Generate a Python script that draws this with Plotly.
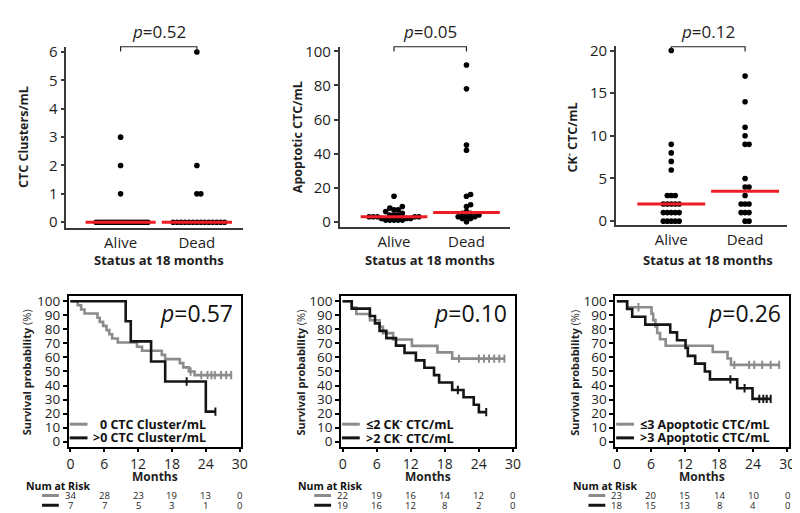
import numpy as np
import plotly.graph_objects as go

W, H = 800, 513
FONT = "Open Sans"
NARROW = "Liberation Sans Narrow, Open Sans"

# ---------------- data: dot plots ----------------
groups = ["Alive", "Dead"]
clusters_alive = [3, 2, 1, 0, 0, 0, 0, 0, 0, 0, 0, 0, 0, 0, 0, 0, 0, 0, 0, 0, 0, 0, 0]
clusters_dead = [6, 2, 1, 1, 0, 0, 0, 0, 0, 0, 0, 0, 0, 0, 0, 0, 0, 0]
apop_alive = [15, 9, 8, 7, 7, 6, 5, 4, 4, 4, 3, 3, 3, 3, 3, 2, 2, 2, 1, 1, 1, 1, 1]
apop_dead = [92, 78, 45, 42, 16, 15, 10, 9, 6, 5, 5, 4, 3, 3, 3, 2, 2, 0]
ckneg_alive = [20, 9, 8, 7, 6, 3, 3, 3, 2, 2, 2, 2, 2, 1, 1, 1, 1, 1, 0, 0, 0, 0, 0]
ckneg_dead = [17, 14, 11, 10, 9, 9, 5, 4, 4, 3, 2, 2, 2, 1, 1, 1, 0, 0]
p_top = ["0.52", "0.05", "0.12"]
ytitles_top = ["<b>CTC Clusters/mL</b>", "<b>Apoptotic CTC/mL</b>", "<b>CK<sup>-</sup> CTC/mL</b>"]

# ---------------- data: Kaplan-Meier ----------------
km1_a_t = [0, 1.3, 1.9, 2.5, 4.8, 5.2, 5.8, 6.4, 6.9, 7.4, 8.4, 11.8, 12.7, 16.2, 16.8, 19.4, 20.0, 21.0, 22.0, 28.5]
km1_a_s = [100, 97.1, 94.1, 91.2, 88.2, 85.3, 82.4, 79.4, 76.5, 73.5, 70.6, 67.6, 64.7, 61.8, 58.8, 55.9, 52.9, 50.0, 47.4, 47.4]
km1_a_ct = [21.3, 23.2, 24.3, 25.0, 25.6, 26.7, 27.6, 28.5]
km1_a_cs = [50.0, 47.4, 47.4, 47.4, 47.4, 47.4, 47.4, 47.4]
km1_b_t = [0, 9.8, 10.7, 14.3, 16.8, 24.0, 25.7]
km1_b_s = [100, 85.7, 71.4, 57.1, 42.9, 21.4, 21.4]
km1_b_ct = [20.6, 25.7]
km1_b_cs = [42.9, 21.4]

km2_a_t = [0, 1.6, 2.4, 4.8, 6.5, 7.1, 8.9, 12.2, 16.7, 19.3, 28.5]
km2_a_s = [100, 95.5, 90.9, 86.4, 81.8, 77.3, 72.7, 68.2, 63.6, 59.1, 59.1]
km2_a_ct = [20.5, 24.0, 24.9, 25.8, 26.7, 27.6, 28.5]
km2_a_cs = [59.1, 59.1, 59.1, 59.1, 59.1, 59.1, 59.1]
km2_b_t = [0, 1.6, 4.8, 5.7, 6.5, 7.7, 9.4, 10.9, 12.9, 14.4, 16.1, 17.0, 19.3, 21.3, 23.1, 24.0, 25.3]
km2_b_s = [100, 94.7, 89.5, 84.2, 78.9, 73.7, 68.4, 63.2, 57.9, 52.6, 47.4, 42.1, 36.8, 31.6, 26.3, 21.1, 21.1]
km2_b_ct = [20.3, 25.3]
km2_b_cs = [36.8, 21.1]

km3_a_t = [0, 1.8, 6.1, 6.4, 6.8, 7.1, 7.6, 8.6, 16.9, 19.5, 20.1, 28.6]
km3_a_s = [100, 95.7, 91.1, 86.5, 82.0, 77.4, 72.9, 68.3, 63.8, 59.2, 54.7, 54.7]
km3_a_ct = [3.8, 20.7, 23.3, 24.2, 25.6, 27.1, 28.6]
km3_a_cs = [95.7, 54.7, 54.7, 54.7, 54.7, 54.7, 54.7]
km3_b_t = [0, 1.8, 2.7, 5.0, 9.4, 10.6, 12.1, 12.5, 13.8, 15.5, 16.4, 21.2, 23.9, 27.1]
km3_b_s = [100, 94.4, 88.9, 83.3, 77.8, 72.2, 66.7, 61.1, 55.6, 50.0, 44.4, 38.1, 30.5, 30.5]
km3_b_ct = [20.0, 22.5, 25.1, 25.8, 26.4, 27.1]
km3_b_cs = [44.4, 38.1, 30.5, 30.5, 30.5, 30.5]

p_km = ["0.57", "0.10", "0.26"]
legend_km = [["0 CTC Cluster/mL", ">0 CTC Cluster/mL"],
             ["&#8804;2 CK<sup>-</sup> CTC/mL", ">2 CK<sup>-</sup> CTC/mL"],
             ["&#8804;3 Apoptotic CTC/mL", ">3 Apoptotic CTC/mL"]]
legend_indent = [[7, 0], [0, 0], [0, 0]]
risk_months = [0, 6, 12, 18, 24, 30]
risk1 = [[34, 28, 23, 19, 13, 0], [7, 7, 5, 3, 1, 0]]
risk2 = [[22, 19, 16, 14, 12, 0], [19, 16, 12, 8, 2, 0]]
risk3 = [[23, 20, 15, 14, 10, 0], [18, 15, 13, 8, 4, 0]]

# ---------------- layout geometry (pixels) ----------------
top = [
    dict(x0=57, x1=235, yt=33, yb=218, xr=[-0.71, 1.6], yr=[-0.2, 6.17], dt=1, sp=[2.75, 4.0]),
    dict(x0=333, x1=505, yt=33, yb=217, xr=[-0.75, 1.6], yr=[-3, 102.4], dt=20, sp=[4.2, 4.2]),
    dict(x0=612, x1=785, yt=32, yb=215, xr=[-0.75, 1.57], yr=[-0.45, 20.5], dt=5, sp=[4.0, 4.0]),
]
bot = [
    dict(x0=59.3, x1=233.7),
    dict(x0=334.3, x1=509.7),
    dict(x0=611.3, x1=786.7),
]
KM_YT, KM_YB = 288, 442
KM_XR = [-0.3, 30.3]
KM_YR = [-3.5, 103.5]

GRAY = "#8c8c8c"
BLACK = "#151515"
RED = "#ee1c25"
TXT = "#1e1e1e"


def fx(p):
    return p / W


def fy(p):
    return 1 - p / H


def swarm(vals, ppu_y, s):
    vals = np.asarray(vals, float)
    order = np.argsort(vals, kind="stable")
    cands = [0.0]
    for k in range(1, 80):
        cands += [k * s / 2, -k * s / 2]
    placed = []
    out = np.zeros(len(vals))
    for i in order:
        y = vals[i] * ppu_y
        for c in cands:
            if all((c - px) ** 2 + (y - py) ** 2 >= (s * 0.999) ** 2 for px, py in placed):
                break
        placed.append((c, y))
        out[i] = c
    return out


def ann(text, x, y, xref="paper", xanchor="center", size=12, family=FONT, angle=0, color=TXT):
    return dict(text=text, x=x, y=y, xref=xref, yref="paper", xanchor=xanchor, yanchor="middle",
                showarrow=False, textangle=angle, font=dict(size=size, color=color, family=family))


fig = go.Figure()
annotations = []
shapes = []
layout = {}

dot_data = [(clusters_alive, clusters_dead), (apop_alive, apop_dead), (ckneg_alive, ckneg_dead)]
for k, (g, (va, vd)) in enumerate(zip(top, dot_data)):
    n = k + 1
    xa, ya = f"x{n}", f"y{n}"
    ppu_x = (g["x1"] - g["x0"]) / (g["xr"][1] - g["xr"][0])
    ppu_y = (g["yb"] - g["yt"]) / (g["yr"][1] - g["yr"][0])
    for ci, (vals, sp) in enumerate(zip((va, vd), g["sp"])):
        dx = swarm(vals, ppu_y, sp) / ppu_x
        fig.add_trace(go.Scatter(x=ci + dx, y=vals, mode="markers", xaxis=xa, yaxis=ya,
                                 marker=dict(color="black", size=5.6), showlegend=False,
                                 hoverinfo="skip"))
        med = float(np.median(vals))
        fig.add_trace(go.Scatter(x=[ci - 0.46, ci + 0.46], y=[med, med], mode="lines",
                                 xaxis=xa, yaxis=ya, line=dict(color=RED, width=3),
                                 showlegend=False, hoverinfo="skip"))
    layout[f"xaxis{n}"] = dict(domain=[fx(g["x0"]), fx(g["x1"])], range=g["xr"], anchor=ya,
                               tickvals=[0, 1], ticktext=groups, ticks="", showline=True,
                               linecolor="#3a3a3a", linewidth=1.5, showgrid=False, zeroline=False,
                               tickfont=dict(size=15, color=TXT, family=FONT))
    layout[f"yaxis{n}"] = dict(domain=[fy(g["yb"]), fy(g["yt"])], range=g["yr"], anchor=xa,
                               dtick=g["dt"], ticks="outside", ticklen=4, tickwidth=1.5,
                               tickcolor="#3a3a3a", showline=True, linecolor="#3a3a3a",
                               linewidth=1.5, showgrid=False, zeroline=False,
                               tickfont=dict(size=15, color=TXT, family=FONT))
    annotations.append(ann(f"<i>p</i>={p_top[k]}", 0.5, fy(17), xref=xa, size=17))
    shapes.append(dict(type="path", xref=xa, yref="paper",
                       path=f"M 0,{fy(37.5)} L 0,{fy(32.5)} L 1,{fy(32.5)} L 1,{fy(37.5)}",
                       line=dict(color="#222", width=1.2)))
    annotations.append(ann("<b>Status at 18 months</b>", 0.5, fy(251), xref=xa, size=13))

ytitle_x = [13, 290, 568]
for k in range(3):
    annotations.append(ann(ytitles_top[k], fx(ytitle_x[k]), fy(125), size=12.5, angle=-90))

km_data = [
    (km1_a_t, km1_a_s, km1_a_ct, km1_a_cs, km1_b_t, km1_b_s, km1_b_ct, km1_b_cs, risk1),
    (km2_a_t, km2_a_s, km2_a_ct, km2_a_cs, km2_b_t, km2_b_s, km2_b_ct, km2_b_cs, risk2),
    (km3_a_t, km3_a_s, km3_a_ct, km3_a_cs, km3_b_t, km3_b_s, km3_b_ct, km3_b_cs, risk3),
]
surv_x = [17, 293, 570]
for k, (g, d) in enumerate(zip(bot, km_data)):
    n = k + 4
    xa, ya = f"x{n}", f"y{n}"
    at, as_, act, acs, bt, bs, bct, bcs, risk = d
    for t, s, ct, cs, col in ((at, as_, act, acs, GRAY), (bt, bs, bct, bcs, BLACK)):
        fig.add_trace(go.Scatter(x=t, y=s, mode="lines", line=dict(color=col, width=2.6, shape="hv"),
                                 xaxis=xa, yaxis=ya, showlegend=False, hoverinfo="skip"))
        fig.add_trace(go.Scatter(x=ct, y=cs, mode="markers", xaxis=xa, yaxis=ya, showlegend=False,
                                 marker=dict(symbol="line-ns", size=6, line=dict(color=col, width=2)),
                                 hoverinfo="skip"))
    layout[f"xaxis{n}"] = dict(domain=[fx(g["x0"]), fx(g["x1"])], range=KM_XR, anchor=ya,
                               tickvals=risk_months, ticks="outside", ticklen=4, tickwidth=1.5,
                               tickcolor="black", showline=True, mirror=True, linecolor="black",
                               linewidth=1.5, showgrid=False, zeroline=False,
                               tickfont=dict(size=14, color=TXT, family=FONT))
    layout[f"yaxis{n}"] = dict(domain=[fy(KM_YB), fy(KM_YT)], range=KM_YR, anchor=xa,
                               dtick=10, ticks="outside", ticklen=4, tickwidth=1.5,
                               tickcolor="black", showline=True, mirror=True, linecolor="black",
                               linewidth=1.5, showgrid=False, zeroline=False,
                               tickfont=dict(size=13.5, color=TXT, family=FONT))
    annotations.append(ann(f"<i>p</i>={p_km[k]}", fx(g["x1"] - 6), fy(305), xanchor="right",
                           size=23, color="#111"))
    annotations.append(ann("<b>Survival probability</b> (%)", fx(surv_x[k]), fy(366), size=11,
                           angle=-90))
    annotations.append(ann("<b>Months</b>", 15, fy(473), xref=xa, size=12))
    # in-plot legend
    for j, (lab, col, yy) in enumerate(zip(legend_km[k], (GRAY, BLACK), (419, 433))):
        shapes.append(dict(type="line", xref="paper", yref="paper", x0=fx(g["x0"] + 1),
                           x1=fx(g["x0"] + 19), y0=fy(yy), y1=fy(yy), line=dict(color=col, width=3)))
        annotations.append(ann(f"<b>{lab}</b>", fx(g["x0"] + 23 + legend_indent[k][j]), fy(yy),
                               xanchor="left", size=12.5, color="#111"))
    # risk table
    annotations.append(ann("<b>Num at Risk</b>", fx(g["x0"] - 45), fy(482), xanchor="left",
                           size=10.5, color="#111"))
    for j, (row, col, yy) in enumerate(zip(risk, (GRAY, BLACK), (492, 502))):
        shapes.append(dict(type="line", xref="paper", yref="paper", x0=fx(g["x0"] - 27),
                           x1=fx(g["x0"] - 10), y0=fy(yy), y1=fy(yy), line=dict(color=col, width=3)))
        for m, v in zip(risk_months, row):
            annotations.append(ann(str(v), m, fy(yy), xref=xa, size=9.5, family=NARROW))

fig.update_layout(width=W, height=H, margin=dict(l=0, r=0, t=0, b=0), paper_bgcolor="white",
                  plot_bgcolor="white", showlegend=False, annotations=annotations, shapes=shapes,
                  **layout)
fig.write_html("out.html")
